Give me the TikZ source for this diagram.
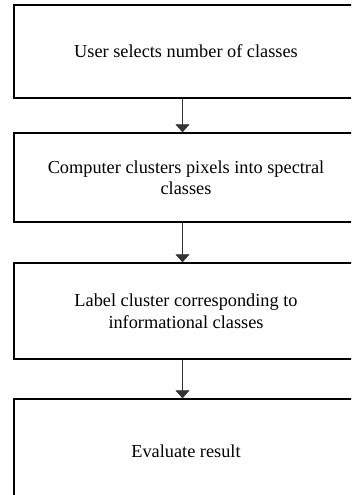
\documentclass[tikz,border=0pt]{standalone}
\usepackage{fontspec}
\setmainfont{Liberation Serif}
\usetikzlibrary{arrows.meta}

\begin{document}
\begin{tikzpicture}[x=1pt, y=1pt,
    every node/.style={font=\fontsize{18.3}{21.5}\selectfont},
    stepbox/.style={draw, line width=1.3pt, minimum width=344pt, align=center, inner sep=0pt},
    flow/.style={draw=black!80, line width=0.7pt, -{Triangle[width=14pt,length=8pt]}}]
      \useasboundingbox (0,0) rectangle (351,-495);
      \clip (0,0) rectangle (351,-495);

      % Boxes
      \node[stepbox, minimum height=93pt] (select) at (186,-51.5)
            {User selects number of classes};
      \node[stepbox, minimum height=89pt] (cluster) at (186,-177.5)
            {Computer clusters pixels into spectral\\classes};
      \node[stepbox, minimum height=96pt] (label) at (186,-311)
            {Label cluster corresponding to\\informational classes};
      \node[stepbox, minimum height=104pt] (evaluate) at (186,-451)
            {Evaluate result};

      % Arrows
      \draw[flow] ([xshift=-3.5pt]select.south) -- ([xshift=-3.5pt]cluster.north);
      \draw[flow] ([xshift=-3.5pt]cluster.south) -- ([xshift=-3.5pt]label.north);
      \draw[flow] ([xshift=-3.5pt]label.south) -- ([xshift=-3.5pt]evaluate.north);
\end{tikzpicture}
\end{document}
